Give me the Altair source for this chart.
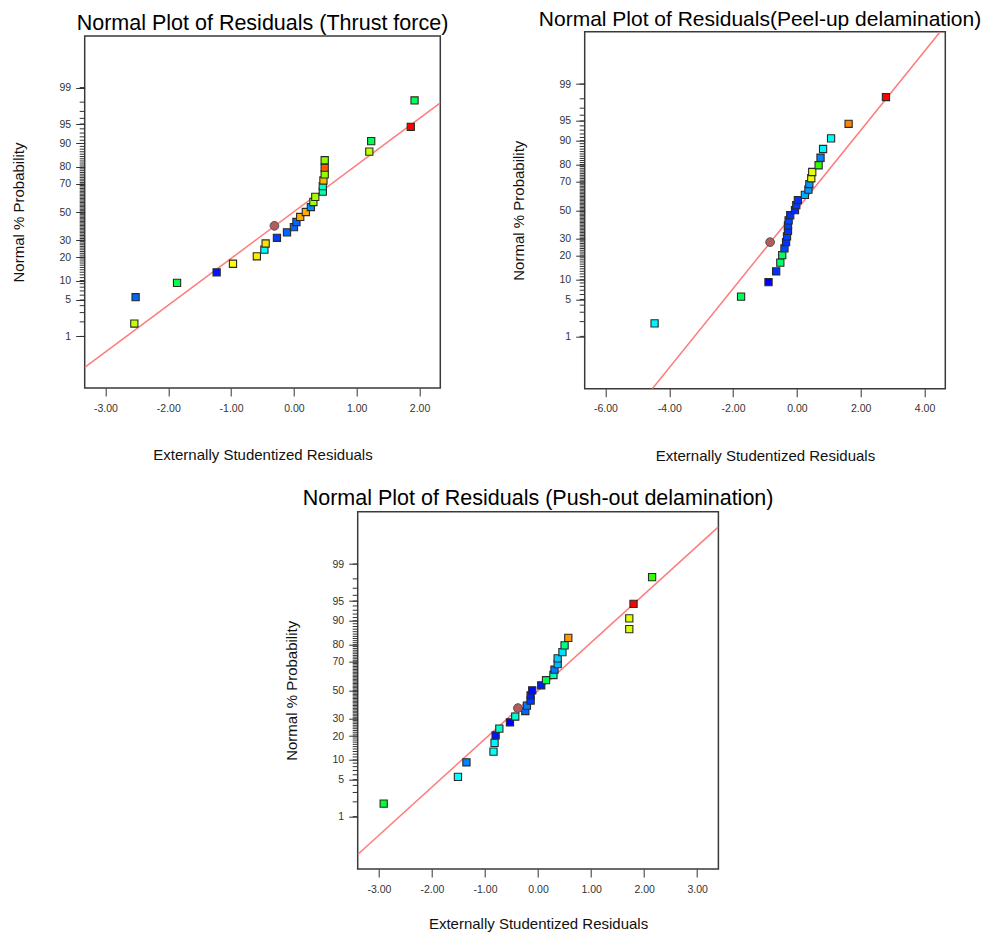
import altair as alt
import pandas as pd
from statistics import NormalDist

# ---------------- data ----------------
# normal % probability of the 27 ranked residuals (same for every panel)
prob_pct = [1.85, 5.56, 9.26, 12.96, 16.67, 20.37, 24.07, 27.78, 31.48, 35.19,
            38.89, 42.59, 46.30, 50.00, 53.70, 57.41, 61.11, 64.81, 68.52, 72.22,
            75.93, 79.63, 83.33, 87.04, 90.74, 94.44, 98.15]

# Thrust force
thrust_resid = [-2.54, -2.52, -1.86, -1.23, -0.97, -0.59, -0.47, -0.45, -0.27, -0.11,
                0.00, 0.04, 0.10, 0.19, 0.27, 0.31, 0.34, 0.46, 0.46, 0.47,
                0.49, 0.49, 0.49, 1.20, 1.23, 1.86, 1.92]
thrust_level = [0.69, 0.10, 0.43, 0.02, 0.75, 0.77, 0.25, 0.78, 0.06, 0.10,
                0.10, 0.10, 0.83, 0.83, 0.14, 0.66, 0.66, 0.33, 0.30, 0.82,
                0.64, 0.91, 0.64, 0.69, 0.42, 1.00, 0.42]
thrust_circle = {"resid": [-0.31], "pct": [39.8]}
thrust_line = {"resid": [-3.33, 2.33], "pct": [0.184, 97.94]}

# Peel-up delamination
peel_resid = [-4.46, -1.75, -0.89, -0.65, -0.52, -0.46, -0.39, -0.34, -0.31, -0.28,
              -0.28, -0.26, -0.21, -0.06, -0.02, 0.03, 0.25, 0.36, 0.39, 0.45,
              0.48, 0.68, 0.74, 0.82, 1.07, 1.62, 2.79]
peel_level = [0.24, 0.41, 0.00, 0.05, 0.40, 0.41, 0.07, 0.05, 0.06, 0.05,
              0.06, 0.07, 0.05, 0.04, 0.06, 0.05, 0.17, 0.15, 0.15, 0.73,
              0.72, 0.55, 0.13, 0.24, 0.26, 0.87, 1.00]
peel_circle = {"resid": [-0.84], "pct": [27.8]}
peel_line = {"resid": [-4.53, 4.49], "pct": [0.05, 99.95]}

# Push-out delamination
push_resid = [-2.91, -1.51, -1.35, -0.84, -0.82, -0.80, -0.73, -0.53, -0.43, -0.24,
              -0.21, -0.14, -0.14, -0.11, 0.06, 0.15, 0.29, 0.31, 0.37, 0.37,
              0.46, 0.50, 0.57, 1.72, 1.72, 1.80, 2.15]
push_level = [0.45, 0.25, 0.13, 0.26, 0.24, 0.02, 0.30, 0.00, 0.30, 0.10,
              0.12, 0.06, 0.03, 0.01, 0.03, 0.42, 0.33, 0.12, 0.18, 0.20,
              0.22, 0.37, 0.85, 0.72, 0.72, 1.00, 0.55]
push_circle = {"resid": [-0.38], "pct": [37.2]}
push_line = {"resid": [-3.40, 3.40], "pct": [0.125, 99.87]}

major_pct = [1, 5, 10, 20, 30, 50, 70, 80, 90, 95, 99]
minor_pct = list(range(1, 100))

FONT = "Liberation Sans"
nd = NormalDist()
major_z = [nd.inv_cdf(p / 100) for p in major_pct]
ZDOM = [nd.inv_cdf(0.0005), nd.inv_cdf(0.9995)]

color_scale = alt.Scale(domain=[0, 0.25, 0.5, 0.75, 1],
                        range=["#0000ff", "#00ffff", "#00ff00", "#ffff00", "#ff0000"],
                        interpolate="rgb")


def panel(title, resid, level, circle, line, xdom, xticks, w, h,
          xtitle_pad=34, title_dx=0, title_size=21.5):
    yscale = alt.Scale(domain=ZDOM, nice=False, zero=False)
    xscale = alt.Scale(domain=xdom, nice=False, zero=False)
    yaxis = alt.Axis(values=major_z,
                     labelExpr="format(cumulativeNormal(datum.value) * 100, '.0f')",
                     title="Normal % Probability", grid=False, domain=False,
                     tickSize=9, tickColor="#333", labelColor="#333",
                     labelFontSize=10.5, labelPadding=5, labelFont=FONT,
                     titleFont=FONT, titleFontSize=15, titleFontWeight="normal",
                     titleColor="#111", titlePadding=33)
    xaxis = alt.Axis(values=xticks,
                     labelExpr="replace(format(datum.value, '.2f'), '\u2212', '-')",
                     title="Externally Studentized Residuals", grid=False, domain=False,
                     tickSize=8, tickColor="#333", labelColor="#333",
                     labelFontSize=10.5, labelPadding=7, labelFont=FONT,
                     titleFont=FONT, titleFontSize=15, titleFontWeight="normal",
                     titleColor="#111", titlePadding=xtitle_pad)
    X = alt.X("resid:Q", scale=xscale, axis=xaxis)
    Y = alt.Y("z:Q", scale=yscale, axis=yaxis)

    pts = pd.DataFrame({"resid": resid, "pct": prob_pct, "level": level})
    zcalc = "quantileNormal(datum.pct / 100)"

    line_l = (alt.Chart(pd.DataFrame(line)).transform_calculate(z=zcalc)
              .mark_line(color="#ff7b7b", strokeWidth=1.5, clip=True)
              .encode(x=X, y=Y))
    minor_l = (alt.Chart(pd.DataFrame({"pct": minor_pct})).transform_calculate(z=zcalc)
               .mark_rule(color="#333", strokeWidth=1)
               .encode(x=alt.value(-5), x2=alt.value(0), y=Y))
    sq_l = (alt.Chart(pts).transform_calculate(z=zcalc)
            .mark_square(size=52, filled=True, stroke="#2a2a2a", strokeWidth=1.1, opacity=1)
            .encode(x=X, y=Y, color=alt.Color("level:Q", scale=color_scale, legend=None)))
    circ_l = (alt.Chart(pd.DataFrame(circle)).transform_calculate(z=zcalc)
              .mark_circle(size=76, color="#b35c5c", stroke="#555", strokeWidth=1, opacity=1)
              .encode(x=X, y=Y))
    return alt.layer(line_l, minor_l, sq_l, circ_l).properties(
        width=w, height=h,
        title=alt.TitleParams(title, fontSize=title_size, font=FONT, fontWeight="normal",
                              color="black", anchor="middle", offset=2, dx=title_dx))


def spacer(w, h):
    return (alt.Chart(pd.DataFrame({"v": [0]})).mark_point(opacity=0)
            .encode(x=alt.value(0), y=alt.value(0))
            .properties(width=w, height=h,
                        view=alt.ViewBackground(stroke="transparent", strokeOpacity=0)))


p1 = panel("Normal Plot of Residuals (Thrust force)", thrust_resid, thrust_level,
           thrust_circle, thrust_line, [-3.33, 2.33], [-3, -2, -1, 0, 1, 2], 355.6, 352)
p2 = panel("Normal Plot of Residuals(Peel-up delamination)", peel_resid, peel_level,
           peel_circle, peel_line, [-6.65, 4.65], [-6, -4, -2, 0, 2, 4], 360.6, 357,
           title_dx=-5, title_size=21)
p3 = panel("Normal Plot of Residuals (Push-out delamination)", push_resid, push_level,
           push_circle, push_line, [-3.40, 3.40], [-3, -2, -1, 0, 1, 2, 3], 360.7, 357.3,
           xtitle_pad=22)

# with flush bounds a nested concat counts as zero-sized, so spacing carries its size
col1 = alt.vconcat(spacer(355.6, 1), p1, spacing=3.3, bounds="flush")
row1 = alt.hconcat(col1, p2, spacing=500.0, bounds="flush")
row2 = alt.hconcat(spacer(262.3, 1), p3, spacing=10, bounds="flush")

chart = (alt.vconcat(row1, row2, spacing=480.0, bounds="flush")
         .properties(autosize=alt.AutoSizeParams(type="none"),
                     padding={"left": 76.7, "top": 23.7, "right": 902.3, "bottom": 902.3})
         .configure(font=FONT)
         .configure_view(stroke="#3a3a3a", strokeWidth=1.5, fill="white"))

chart.save("out.html", embed_options={"renderer": "svg", "actions": False})
